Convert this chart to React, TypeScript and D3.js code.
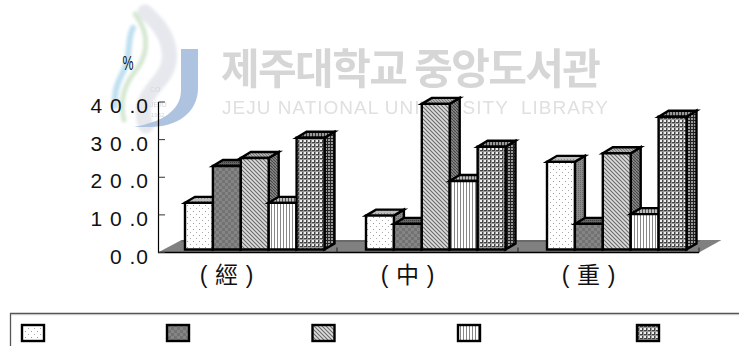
import React from "react";
import * as d3 from "d3";

const categories = ["經", "中", "重"];
const seriesFirst = [12.4, 9.0, 23.3];
const seriesSecond = [22.2, 6.8, 6.8];
const seriesThird = [24.3, 38.7, 25.6];
const seriesFourth = [12.4, 18.2, 9.4];
const seriesFifth = [29.7, 27.3, 35.3];
const yTicks = [0, 10, 20, 30, 40];
const yTickLabels = ["0 .0", "1 0 .0", "2 0 .0", "3 0 .0", "4 0 .0"];
const patternIds = ["dots", "check", "diag", "vert", "grid"];

const allSeries = [seriesFirst, seriesSecond, seriesThird, seriesFourth, seriesFifth];

const W = 739;
const H = 347;
const DEPTH_X = 10;
const DEPTH_Y = 6;
const BAR_DROP = 3; // bars stand slightly in front of the axis plane

const y = d3.scaleLinear().domain([0, 40]).range([252.5, 102]);
const band = d3.scaleBand<string>().domain(categories).range([156, 699]);
const inner = d3.scaleBand<number>().domain([0, 1, 2, 3, 4]).range([0, 139.5]);
const legendPositions = [21, 166, 311.5, 457, 636];

const Patterns = () => (
  <defs>
    <pattern id="dots" width="6" height="6" patternUnits="userSpaceOnUse">
      <rect width="6" height="6" fill="#fff" />
      <rect x="1" y="1" width="1" height="1" fill="#999" />
      <rect x="4" y="4" width="1" height="1" fill="#aaa" />
    </pattern>
    <pattern id="dots-side" width="2" height="2" patternUnits="userSpaceOnUse">
      <rect width="2" height="2" fill="#8a8a8a" />
      <rect width="1" height="1" fill="#6a6a6a" />
    </pattern>
    <pattern id="dots-top" width="3" height="3" patternUnits="userSpaceOnUse">
      <rect width="3" height="3" fill="#bdbdbd" />
      <rect width="1" height="1" fill="#888" />
    </pattern>
    <pattern id="check" width="6" height="6" patternUnits="userSpaceOnUse">
      <rect width="6" height="6" fill="#858585" />
      <rect width="3" height="3" fill="#727272" />
      <rect x="3" y="3" width="3" height="3" fill="#727272" />
    </pattern>
    <pattern id="check-side" width="2" height="2" patternUnits="userSpaceOnUse">
      <rect width="2" height="2" fill="#5c5c5c" />
      <rect width="1" height="1" fill="#444" />
    </pattern>
    <pattern id="check-top" width="2" height="2" patternUnits="userSpaceOnUse">
      <rect width="2" height="2" fill="#666" />
      <rect width="1" height="1" fill="#3c3c3c" />
    </pattern>
    <pattern id="diag" width="4" height="4" patternUnits="userSpaceOnUse">
      <rect width="4" height="4" fill="#dcdcdc" />
      <path d="M-1,1 L1,-1 M0,4 L4,0 M3,5 L5,3" stroke="#6a6a6a" strokeWidth="1.1" transform="scale(-1,1) translate(-4,0)" />
    </pattern>
    <pattern id="diag-side" width="3" height="3" patternUnits="userSpaceOnUse">
      <rect width="3" height="3" fill="#8a8a8a" />
      <path d="M0,0 L3,3" stroke="#444" strokeWidth="1.1" />
    </pattern>
    <pattern id="diag-top" width="3" height="3" patternUnits="userSpaceOnUse">
      <rect width="3" height="3" fill="#b0b0b0" />
      <path d="M0,0 L3,3" stroke="#777" strokeWidth="1" />
    </pattern>
    <pattern id="vert" width="3" height="4" patternUnits="userSpaceOnUse">
      <rect width="3" height="4" fill="#fff" />
      <rect x="1" width="1" height="4" fill="#888" />
    </pattern>
    <pattern id="vert-side" width="2" height="2" patternUnits="userSpaceOnUse">
      <rect width="2" height="2" fill="#777" />
      <rect width="1" height="2" fill="#444" />
    </pattern>
    <pattern id="vert-top" width="3" height="4" patternUnits="userSpaceOnUse">
      <rect width="3" height="4" fill="#bbb" />
      <rect width="1" height="4" fill="#555" />
    </pattern>
    <pattern id="grid" width="4" height="4" patternUnits="userSpaceOnUse">
      <rect width="4" height="4" fill="#eee" />
      <rect x="2" width="1" height="4" fill="#444" />
      <rect y="2" width="4" height="1" fill="#444" />
      <rect x="3" y="0" width="1" height="4" fill="#999" />
      <rect y="3" width="4" height="1" fill="#999" />
    </pattern>
    <pattern id="grid-side" width="3" height="3" patternUnits="userSpaceOnUse">
      <rect width="3" height="3" fill="#999" />
      <rect width="1" height="3" fill="#222" />
      <rect width="3" height="1" fill="#222" />
    </pattern>
    <pattern id="grid-top" width="3" height="2" patternUnits="userSpaceOnUse">
      <rect width="3" height="2" fill="#999" />
      <rect width="1" height="2" fill="#333" />
    </pattern>
    <filter id="soft" x="-5%" y="-5%" width="110%" height="110%">
      <feGaussianBlur stdDeviation="0.6" />
    </filter>
    <filter id="softer" x="-30%" y="-20%" width="160%" height="140%">
      <feGaussianBlur stdDeviation="1.4" />
    </filter>
  </defs>
);

// Library emblem and name, printed faintly behind the chart
const Emblem = () => (
  <g>
    <g filter="url(#softer)" fill="none" strokeLinecap="round">
      <path d="M145,12 C172,34 176,62 160,80 C148,94 138,106 146,126" stroke="#e6e8ee" strokeWidth="15" />
      <path d="M135,14 C152,36 147,58 133,74 C123,88 120,104 124,120" stroke="#d6e8d2" strokeWidth="5" />
      <path d="M133,28 C126,42 132,56 123,72 C116,86 114,94 115,106" stroke="#bfe0f0" strokeWidth="6" />
    </g>
    <path
      d="M181,49 L198,49 L198,88 C198,112 178,127 150,127 L134,127 C160,122 181,112 181,90 Z"
      fill="#aec3e0"
      filter="url(#soft)"
    />
    <g filter="url(#soft)" fontFamily="'Liberation Sans'" fill="#d4d6da" textAnchor="start">
      <text x="150" y="92" fontSize="7">CO</text>
      <text x="150" y="107" fontSize="7">JEJU</text>
      <text x="151" y="117" fontSize="6">1952</text>
    </g>
    <g filter="url(#soft)">
      <text
        x="221"
        y="84"
        fontFamily="'Noto Sans CJK KR'"
        fontSize="42"
        fontWeight="700"
        fill="#d6d6d6"
        textLength="380"
        lengthAdjust="spacing"
      >
        제주대학교 중앙도서관
      </text>
      <text
        x="222"
        y="114"
        fontFamily="'Liberation Sans'"
        fontSize="19"
        fill="#e0e0e0"
        textLength="386"
        lengthAdjust="spacing"
        xmlSpace="preserve"
      >
        JEJU NATIONAL UNIVERSITY  LIBRARY
      </text>
    </g>
  </g>
);

const Bar3D = ({ x, w, top, base, id }: { x: number; w: number; top: number; base: number; id: string }) => {
  const r = x + w;
  const front = `M${x},${base}V${top}H${r}V${base}Z`;
  const side = `M${r},${base}V${top}L${r + DEPTH_X},${top - DEPTH_Y}V${base - DEPTH_Y}Z`;
  const cap = `M${x},${top}L${x + DEPTH_X},${top - DEPTH_Y}H${r + DEPTH_X}L${r},${top}Z`;
  return (
    <g stroke="#000" strokeWidth="2.4" strokeLinejoin="miter">
      <path d={side} fill={`url(#${id}-side)`} />
      <path d={cap} fill={`url(#${id}-top)`} />
      <path d={front} fill={`url(#${id})`} />
    </g>
  );
};

export default function App() {
  const floorTop = 240;
  const base = y(0) - BAR_DROP;
  return (
    <svg
      width={W}
      height={H}
      style={{ position: "absolute", left: 0, top: 0, background: "#fff" }}
    >
      <Patterns />
      <Emblem />

      {/* floor of the 3D plot */}
      <path d={`M158,${y(0)}L181.5,${floorTop}H721.5L699,${y(0)}Z`} fill="#808080" />
      <path d={`M158,${y(0)}H699`} stroke="#000" strokeWidth="1.5" />
      <path d={`M181.5,${floorTop + 1}H700`} stroke="#555" strokeWidth="1" />

      {/* value axis */}
      <path d={`M158.5,${y(40)}V${y(0)}`} stroke="#000" strokeWidth="1.2" fill="none" />
      {yTicks.map((t, i) => (
        <g key={t}>
          <path d={`M158.5,${y(t)}H165`} stroke="#333" strokeWidth="1" />
          <text
            x={149}
            y={y(t) + 11}
            textAnchor="end"
            fontFamily="'Liberation Sans'"
            fontSize="21"
            letterSpacing="1"
            fill="#111"
            xmlSpace="preserve"
          >
            {yTickLabels[i]}
          </text>
        </g>
      ))}
      <text
        x="0"
        y="0"
        transform="translate(122.5,70) scale(0.62,1)"
        fontFamily="'Liberation Sans'"
        fontSize="20"
        fill="#111"
      >
        %
      </text>

      {/* category ticks on the front floor edge */}
      {categories.map((c) => {
        const right = band(c)! + band.bandwidth();
        return <path key={c} d={`M${right},${y(0)}V${y(0) - 5}`} stroke="#222" strokeWidth="1" />;
      })}

      {/* bars, drawn left to right so each one covers its neighbour's side */}
      {categories.map((c, ci) => {
        const x0 = band(c)! + 29;
        return (
          <g key={c}>
            {allSeries.map((s, si) => (
              <Bar3D
                key={si}
                x={x0 + inner(si)!}
                w={inner.bandwidth()}
                top={y(s[ci]) - BAR_DROP}
                base={base}
                id={patternIds[si]}
              />
            ))}
          </g>
        );
      })}

      {/* category labels */}
      {categories.map((c) => {
        const cx = band(c)! + band.bandwidth() / 2 - 20;
        return (
          <g key={c} fontSize="23" fill="#111" textAnchor="middle">
            <text x={cx - 23} y={283} fontFamily="'Liberation Sans'">(</text>
            <text x={cx} y={283} fontFamily="'Noto Sans CJK TC'">{c}</text>
            <text x={cx + 23} y={283} fontFamily="'Liberation Sans'">)</text>
          </g>
        );
      })}

      {/* legend frame and swatches */}
      <path d="M10.5,346V313.5H739" fill="none" stroke="#555" strokeWidth="1.3" />
      <path d="M11,314.7H739" fill="none" stroke="#bbb" strokeWidth="0.8" />
      {patternIds.map((id, i) => (
        <rect
          key={id}
          x={legendPositions[i] + 1}
          y={325}
          width={22}
          height={16}
          fill={`url(#${id})`}
          stroke="#000"
          strokeWidth="2.4"
        />
      ))}
    </svg>
  );
}
